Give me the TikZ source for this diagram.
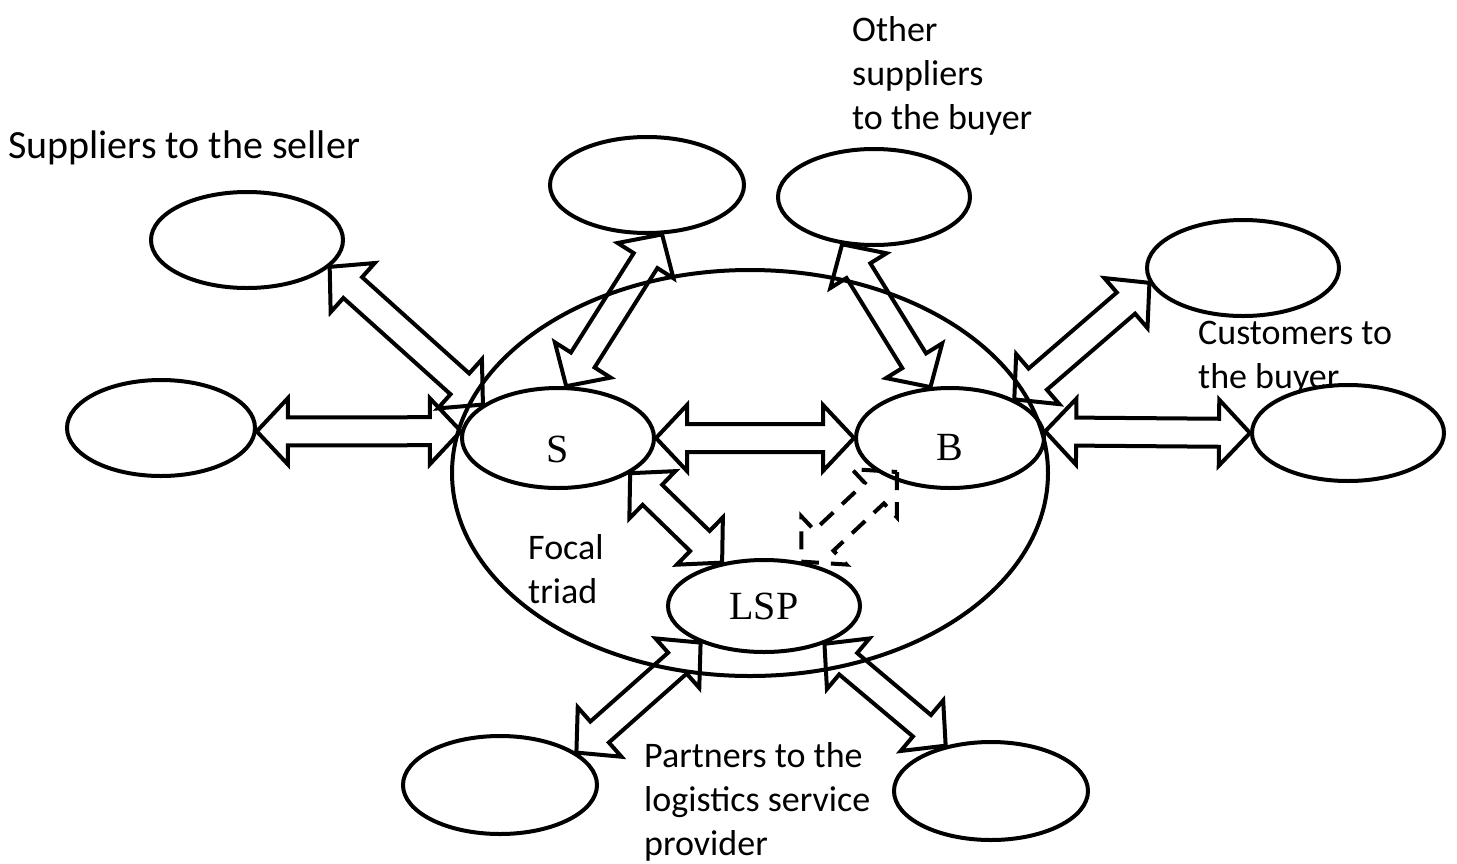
\documentclass[tikz,border=0pt]{standalone}
\usepackage{fontspec}
\setmainfont{Carlito}
\newfontfamily\lettersfont{Liberation Serif}
\usetikzlibrary{shapes.geometric,calc}
\newcommand{\dblblock}[3][]{%
  \draw[blockarrow,#1] (#2)
    -- ($(#2)!31pt!(#3)!33pt!90:(#3)$)
    -- ($(#2)!31pt!(#3)!14pt!90:(#3)$)
    -- ($(#3)!31pt!(#2)!14pt!-90:(#2)$)
    -- ($(#3)!31pt!(#2)!33pt!-90:(#2)$)
    -- (#3)
    -- ($(#3)!31pt!(#2)!33pt!90:(#2)$)
    -- ($(#3)!31pt!(#2)!14pt!90:(#2)$)
    -- ($(#2)!31pt!(#3)!14pt!-90:(#3)$)
    -- ($(#2)!31pt!(#3)!33pt!-90:(#3)$)
    -- cycle;}
\begin{document}
\begin{tikzpicture}[x=1pt,y=-1pt,
  oval/.style={draw, ellipse, line width=4pt, inner sep=0pt, minimum width=192pt, minimum height=96pt},
  blockarrow/.style={draw, line width=4pt, line join=miter},
  dashedarrow/.style={dash pattern=on 18pt off 12pt},
  lbl/.style={font=\fontsize{36}{44}\selectfont, anchor=base west, align=left, inner sep=0pt},
  letter/.style={font=\lettersfont\fontsize{40}{48}\selectfont}
]
\useasboundingbox[fill=white] (0,0) rectangle (1457,863);

% focal triad boundary
\node[oval, minimum width=596pt, minimum height=406pt] (focal) at (750,473) {};

% triad members
\node[oval, letter, minimum width=192pt, minimum height=100pt, text height=50pt] (S) at (558,438) {S};
\node[oval, letter, minimum width=188pt, minimum height=100pt, text height=46pt] (B) at (950,438) {B};
\node[oval, letter, minimum width=192pt, minimum height=92pt] (LSP) at (764,606) {LSP};

% surrounding actors
\node[oval, minimum width=188pt] (L) at (161,428) {};
\node[oval] (TL) at (247,240) {};
\node[oval, minimum width=194pt] (TML) at (647,185) {};
\node[oval] (TMR) at (874,197) {};
\node[oval] (TR) at (1243,268) {};
\node[oval] (R) at (1348,433) {};
\node[oval, minimum width=194pt, minimum height=98pt] (BL) at (500,785) {};
\node[oval, minimum width=194pt, minimum height=98pt] (BR) at (991,791) {};

% labels (anchor = baseline of the last line)
\node[lbl, font=\fontsize{40}{44}\selectfont] (tsup) at (8,158) {Suppliers to the seller};
\node[lbl] (toth) at (852,129) {Other\\suppliers\\to the buyer};
\node[lbl] (tcus) at (1198,388) {Customers to\\the buyer};
\node[lbl] (tfoc) at (528,603) {Focal\\triad};
\node[lbl] (tpar) at (644,855) {Partners to the\\logistics service\\provider};

% block arrows
\dblblock{L.-2}{S.176}
\dblblock{TL.-18}{S.156}
\dblblock{TML.-73}{S.81}
\dblblock{TMR.-124}{B.111}
\dblblock{TR.189}{B.31}
\dblblock{R.180}{B.4}
\dblblock{S.east}{B.west}
\dblblock{S.-26}{LSP.134}
\dblblock{LSP.210}{BL.23}
\dblblock{LSP.-32}{BR.135}
\coordinate (dB) at ($(B)+(-53,34)$);
\dblblock[dashedarrow]{dB}{LSP.50}
\end{tikzpicture}
\end{document}
